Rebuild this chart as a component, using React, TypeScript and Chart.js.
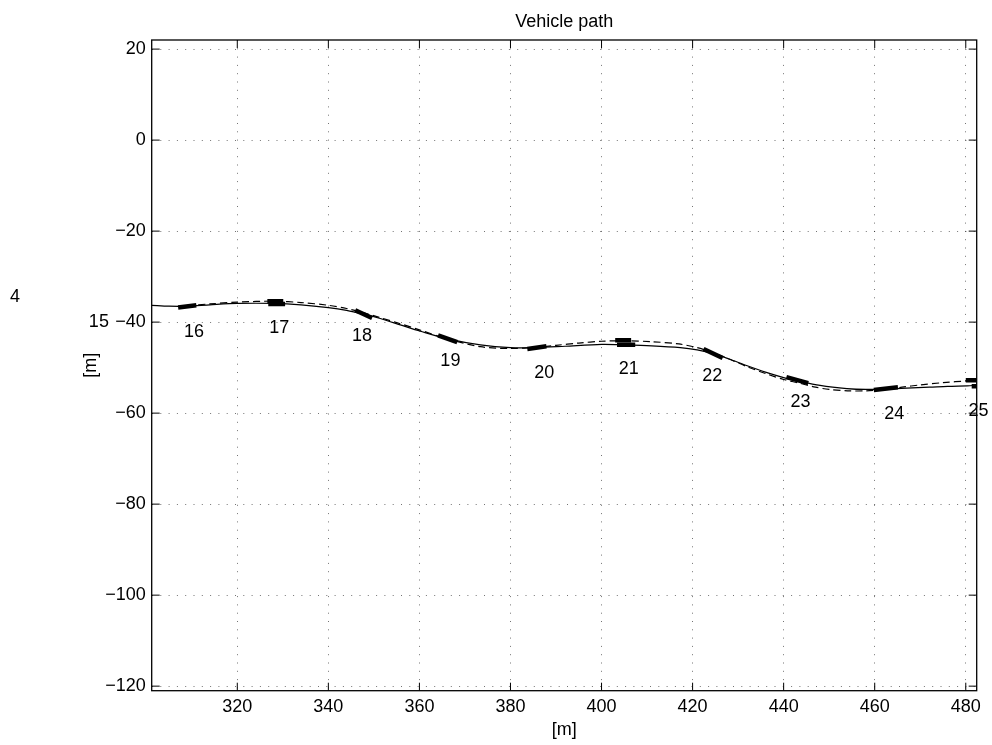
import React, { useEffect, useRef } from "react";
import { Chart, registerables } from "chart.js";

Chart.register(...registerables);

// ---- data ----
const titleText = "Vehicle path";
const xAxisLabel = "[m]";
const yAxisLabel = "[m]";

const xMin = 301.2;
const xMax = 482.4;
const yMin = -121;
const yMax = 22;

const xTicks = [320, 340, 360, 380, 400, 420, 440, 460, 480];
const yTicks = [-120, -100, -80, -60, -40, -20, 0, 20];

// actual path (solid)
const solidX = [301.2, 305, 309, 314, 320, 328, 334, 340, 344, 347.6, 351.4, 355.8, 360.2, 366.2, 373.4, 380, 385.8, 392, 400, 405.2, 411, 417.3, 421, 424.5, 428, 432, 436, 440, 443, 448, 453.9, 458, 462.4, 467, 472, 476, 480.3, 482.4];
const solidY = [-36.3, -36.5, -36.5, -36.2, -35.9, -35.9, -36.2, -36.8, -37.4, -38.2, -39.2, -40.6, -42.0, -43.7, -45.0, -45.6, -45.6, -45.3, -44.9, -45.0, -45.2, -45.6, -46.1, -46.9, -48.1, -49.6, -51.0, -52.2, -52.9, -53.9, -54.6, -54.8, -54.7, -54.5, -54.3, -54.1, -54.0, -53.9];

// reference path (dashed)
const dashX = [309, 314, 320, 328.3, 334, 340, 344, 347.6, 351, 355, 360, 366.2, 373.4, 380, 385.8, 390, 395, 400, 405.2, 411, 417, 421, 424.5, 428, 432, 436, 440, 443, 447, 450, 454, 458, 462.4, 466, 470, 475, 480.3, 482.4];
const dashY = [-36.4, -36.0, -35.6, -35.4, -35.7, -36.3, -37.0, -37.9, -38.9, -40.1, -41.7, -43.7, -45.4, -45.8, -45.5, -45.1, -44.6, -44.2, -44.1, -44.3, -44.8, -45.6, -46.7, -48.1, -49.8, -51.3, -52.6, -53.3, -54.3, -54.8, -55.1, -55.1, -54.8, -54.3, -53.8, -53.3, -52.9, -52.7];

// vehicle markers (short thick segments): start / end points
const markerX1 = [307.0, 326.6, 326.8, 345.9, 364.1, 383.7, 403.0, 403.4, 422.4, 440.6, 459.8, 480.0, 481.3];
const markerY1 = [-36.8, -35.4, -36.0, -37.4, -42.9, -45.9, -44.0, -45.0, -45.9, -52.1, -54.9, -52.8, -54.1];
const markerX2 = [311.0, 330.1, 330.5, 349.6, 368.3, 387.9, 406.5, 407.4, 426.6, 445.4, 465.1, 484.0, 485.0];
const markerY2 = [-36.3, -35.4, -36.0, -39.1, -44.4, -45.3, -44.0, -45.0, -47.9, -53.4, -54.3, -52.8, -54.1];

// time-stamp labels
const labelText = ["4", "15", "16", "17", "18", "19", "20", "21", "22", "23", "24", "25"];
const labelX = [271.2, 289.6, 310.5, 329.2, 347.4, 366.8, 387.4, 406.0, 424.3, 443.7, 464.3, 482.8];
const labelY = [-34.1, -39.7, -41.8, -41.0, -42.7, -48.2, -50.8, -50.0, -51.6, -57.3, -59.9, -59.2];

const FONT_FAMILY = "'Liberation Sans', Arial, Helvetica, sans-serif";
const FONT = `18px ${FONT_FAMILY}`;

const fmt = (v: number) => (v < 0 ? "\u2212" + Math.abs(v) : String(v));

const overlayPlugin = {
  id: "overlay",
  afterDraw(chart: any) {
    const { ctx, chartArea: ca, scales } = chart;
    const xs = scales.x;
    const ys = scales.y;
    ctx.save();
    ctx.strokeStyle = "#000";
    ctx.setLineDash([]);
    ctx.lineWidth = 1.3;
    ctx.strokeRect(ca.left, ca.top, ca.right - ca.left, ca.bottom - ca.top);
    ctx.lineWidth = 1;
    const seg = (a: number, b: number, c: number, d: number) => {
      ctx.beginPath();
      ctx.moveTo(a, b);
      ctx.lineTo(c, d);
      ctx.stroke();
    };
    const tl = 8;
    xTicks.forEach((v) => {
      const px = xs.getPixelForValue(v);
      seg(px, ca.bottom, px, ca.bottom - tl);
      seg(px, ca.top, px, ca.top + tl);
    });
    yTicks.forEach((v) => {
      const py = ys.getPixelForValue(v);
      seg(ca.left, py, ca.left + tl, py);
      seg(ca.right, py, ca.right - tl, py);
    });

    ctx.fillStyle = "#000";
    ctx.font = FONT;
    ctx.textAlign = "center";
    ctx.textBaseline = "alphabetic";
    labelText.forEach((t, i) => {
      ctx.fillText(t, xs.getPixelForValue(labelX[i]), ys.getPixelForValue(labelY[i]) + 6.5);
    });

    const cx = (ca.left + ca.right) / 2;
    ctx.fillText(titleText, cx, 26.7);
    ctx.fillText(xAxisLabel, cx, 734.5);

    ctx.translate(95.7, (ca.top + ca.bottom) / 2);
    ctx.rotate(-Math.PI / 2);
    ctx.fillText(yAxisLabel, 0, 0);
    ctx.restore();
  },
};

export default function App() {
  const canvasRef = useRef<HTMLCanvasElement | null>(null);

  useEffect(() => {
    const canvas = canvasRef.current;
    if (!canvas) return;

    const datasets: any[] = [
      {
        label: "path",
        data: solidX.map((x, i) => ({ x, y: solidY[i] })),
        borderColor: "#000",
        borderWidth: 1.2,
        pointRadius: 0,
        showLine: true,
        tension: 0.3,
        clip: 0,
      },
      {
        label: "reference",
        data: dashX.map((x, i) => ({ x, y: dashY[i] })),
        borderColor: "#000",
        borderWidth: 1.2,
        borderDash: [7, 4],
        pointRadius: 0,
        showLine: true,
        tension: 0.3,
        clip: 0,
      },
    ];
    markerX1.forEach((x1, i) => {
      datasets.push({
        label: "m" + i,
        data: [
          { x: x1, y: markerY1[i] },
          { x: markerX2[i], y: markerY2[i] },
        ],
        borderColor: "#000",
        borderWidth: 4.5,
        borderCapStyle: "butt",
        pointRadius: 0,
        showLine: true,
        clip: 0,
      });
    });

    const chart = new Chart(canvas, {
      type: "scatter",
      data: { datasets },
      plugins: [overlayPlugin],
      options: {
        responsive: false,
        animation: false,
        events: [],
        layout: { padding: { left: 0, right: 15.3, top: 40, bottom: 0 } },
        plugins: {
          legend: { display: false },
          title: { display: false },
          tooltip: { enabled: false },
        },
        scales: {
          x: {
            type: "linear",
            min: xMin,
            max: xMax,
            afterBuildTicks: (scale: any) => {
              scale.ticks = xTicks.map((v) => ({ value: v }));
            },
            afterFit: (scale: any) => {
              scale.height = 54.3;
            },
            ticks: {
              color: "#000",
              font: { family: FONT_FAMILY, size: 18 },
              padding: 6,
              maxRotation: 0,
              autoSkip: false,
              callback: (v: any) => fmt(Number(v)),
            },
            grid: { color: "rgba(0,0,0,0.55)", lineWidth: 1, drawTicks: false },
            border: { display: false, dash: [1, 7.3] },
          },
          y: {
            type: "linear",
            min: yMin,
            max: yMax,
            afterBuildTicks: (scale: any) => {
              scale.ticks = yTicks.map((v) => ({ value: v }));
            },
            afterFit: (scale: any) => {
              scale.width = 151.7;
            },
            ticks: {
              color: "#000",
              font: { family: FONT_FAMILY, size: 18 },
              padding: 6,
              autoSkip: false,
              callback: (v: any) => fmt(Number(v)),
            },
            grid: { color: "rgba(0,0,0,0.55)", lineWidth: 1, drawTicks: false },
            border: { display: false, dash: [1, 7.3] },
          },
        },
      },
    });
    return () => chart.destroy();
  }, []);

  return (
    <div style={{ position: "fixed", left: 0, top: 0, width: 992, height: 745, background: "#fff" }}>
      <canvas ref={canvasRef} width={992} height={745} style={{ display: "block", width: 992, height: 745 }} />
    </div>
  );
}
